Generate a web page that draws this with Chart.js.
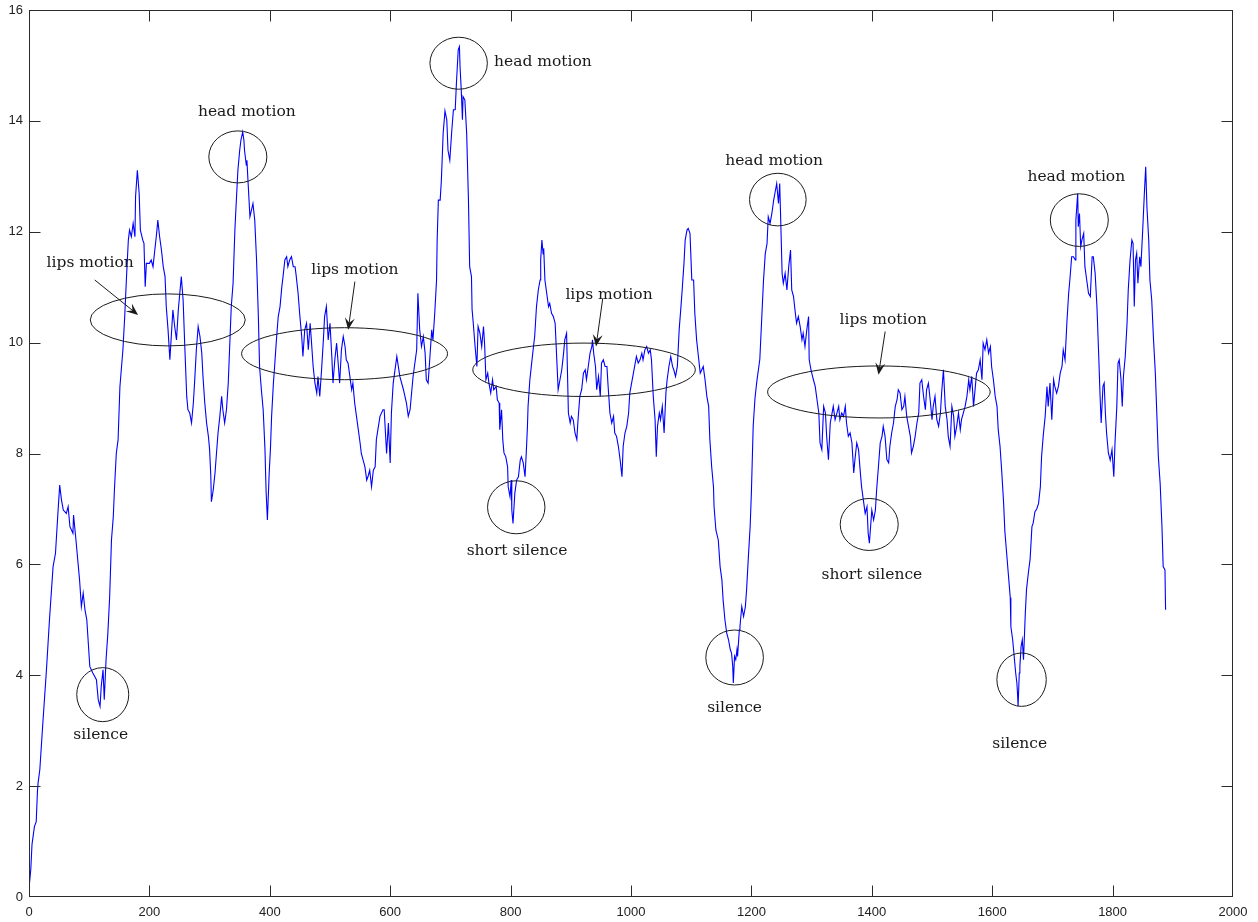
<!DOCTYPE html>
<html><head><meta charset="utf-8">
<script src="https://cdn.jsdelivr.net/npm/chart.js@4.4.1/dist/chart.umd.min.js"></script>
<style>html,body{margin:0;padding:0;background:#fff;}canvas{display:block;}</style>
</head><body>
<canvas id="c" width="1258" height="922"></canvas>
<script>
// ---- data ----
const sampleX = [
0,3,5,9,12,14,15,18,23,29,
34,40,44,48,51,54,57,62,65,68,
73,74,78,81,84,87,90,93,96,101,
106,112,115,118,120,123,125,128,131,134,
137,140,142,145,148,151,156,159,162,165,
167,170,173,176,177,180,183,185,189,191,
193,195,200,203,206,209,212,214,217,220,
223,226,228,231,234,237,239,242,245,248,
251,253,256,259,262,264,267,270,273,275,
278,281,284,287,289,292,295,298,300,302,
303,306,309,311,314,317,320,322,325,328,
331,334,336,339,342,345,347,350,352,355,
357,358,361,362,364,367,372,375,378,381,
383,386,389,392,393,394,396,399,401,403,
406,408,411,414,417,420,422,425,428,430,
433,436,439,442,444,447,450,453,455,458,
461,464,467,469,472,475,478,480,483,486,
489,491,494,497,500,503,505,508,511,514,
516,519,522,525,527,530,533,536,538,541,
544,547,550,552,555,558,561,563,566,569,
572,575,577,583,588,590,594,597,600,602,
605,611,616,622,627,630,633,638,644,646,
649,652,655,658,660,663,666,669,671,674,
677,678,680,683,685,688,691,694,696,699,
702,705,708,710,713,715,716,718,720,721,
724,727,730,732,735,736,738,741,744,746,
749,752,755,757,759,762,764,767,770,772,
776,778,781,782,785,787,789,792,795,796,
799,801,802,804,807,810,813,816,818,821,
824,826,828,829,832,835,838,840,843,846,
849,850,852,854,855,857,860,863,865,868,
871,874,877,879,882,885,888,890,893,896,
899,901,904,907,910,912,915,918,921,924,
926,929,932,935,936,938,941,943,946,949,
951,954,957,960,962,965,968,971,973,976,
979,982,985,987,990,993,996,998,1001,1004,
1007,1009,1012,1015,1018,1020,1023,1026,1029,1032,
1034,1037,1040,1042,1044,1047,1049,1052,1055,1058,
1060,1063,1066,1069,1071,1074,1077,1080,1083,1085,
1088,1090,1093,1095,1098,1101,1104,1106,1109,1112,
1115,1120,1123,1126,1129,1131,1134,1137,1138,1141,
1145,1148,1151,1153,1156,1159,1162,1165,1167,1169,
1170,1172,1174,1176,1177,1180,1181,1184,1187,1190,
1192,1195,1198,1200,1203,1206,1209,1214,1217,1220,
1223,1226,1228,1231,1234,1237,1239,1242,1245,1247,
1249,1251,1253,1256,1259,1262,1265,1267,1270,1273,
1275,1278,1281,1284,1286,1289,1292,1295,1296,1299,
1303,1306,1309,1312,1314,1317,1320,1323,1325,1328,
1331,1334,1336,1339,1342,1345,1347,1350,1353,1356,
1358,1361,1364,1367,1370,1372,1375,1378,1381,1383,
1386,1389,1392,1394,1396,1398,1400,1403,1406,1408,
1411,1414,1417,1419,1422,1425,1428,1430,1433,1436,
1439,1442,1444,1447,1450,1453,1455,1458,1461,1464,
1466,1469,1472,1475,1478,1480,1483,1486,1489,1491,
1494,1497,1500,1502,1505,1508,1511,1514,1516,1519,
1522,1525,1527,1530,1533,1536,1538,1541,1544,1547,
1549,1552,1555,1558,1561,1563,1566,1569,1572,1574,
1577,1580,1583,1585,1588,1591,1594,1597,1599,1602,
1605,1608,1610,1613,1616,1619,1621,1624,1627,1630,
1631,1634,1636,1639,1641,1642,1643,1645,1646,1648,
1650,1652,1655,1657,1660,1663,1666,1668,1671,1674,
1677,1680,1682,1685,1688,1691,1693,1696,1699,1702,
1704,1707,1710,1713,1716,1718,1721,1724,1727,1729,
1732,1735,1738,1739,1742,1743,1745,1747,1749,1752,
1754,1757,1760,1763,1766,1768,1771,1774,1777,1779,
1781,1784,1786,1788,1790,1793,1796,1799,1802,1804,
1807,1809,1811,1814,1816,1818,1821,1824,1826,1829,
1832,1834,1836,1838,1840,1842,1845,1847,1850,1851,
1853,1855,1857,1860,1862,1865,1868,1871,1873,1876,
1879,1882,1884,1887,1888
];
const sampleY = [
0.15,0.5,0.95,1.27,1.36,1.9,2.05,2.3,3.14,4.1,
5.0,5.96,6.2,6.92,7.43,7.16,6.98,6.92,7.04,6.68,
6.56,6.89,6.44,6.08,5.72,5.24,5.48,5.18,5.0,4.16,
4.04,3.92,3.56,3.44,3.8,4.1,3.56,4.28,4.76,5.42,
6.44,6.86,7.37,8.0,8.25,9.2,9.87,10.47,11.19,11.85,
12.03,11.91,12.15,11.91,12.63,13.11,12.69,12.03,11.85,11.79,
11.01,11.43,11.43,11.49,11.37,11.67,11.97,12.21,11.91,11.67,
11.37,11.19,10.65,10.23,9.69,10.23,10.59,10.29,10.05,10.59,
10.95,11.19,10.77,9.87,9.03,8.79,8.73,8.55,8.91,9.27,
9.87,10.29,10.11,9.81,9.39,8.91,8.55,8.31,8.07,7.6,
7.13,7.34,7.65,7.94,8.37,8.67,9.03,8.79,8.55,8.79,
9.27,10.11,10.65,11.07,12.03,12.69,13.11,13.47,13.65,13.8,
13.65,13.47,13.2,13.29,12.87,12.27,12.51,12.21,11.49,10.47,
9.57,9.15,8.79,8.07,7.65,7.28,6.8,7.65,8.07,8.67,
9.27,9.57,10.05,10.47,10.65,11.01,11.19,11.49,11.55,11.37,
11.49,11.55,11.37,11.37,11.19,10.89,10.47,10.11,9.75,10.23,
10.35,9.87,10.35,10.05,9.57,9.27,9.09,9.39,9.03,9.51,
10.05,10.47,10.65,10.05,10.35,9.75,9.27,9.69,9.99,9.57,
9.27,9.87,10.11,9.93,9.69,9.63,9.39,9.15,9.27,8.91,
8.67,8.43,8.19,8.0,7.88,7.76,7.52,7.58,7.7,7.4,
7.7,7.76,8.25,8.67,8.79,8.79,8.0,8.55,7.83,8.73,
9.27,9.75,9.39,9.15,8.91,8.67,8.79,9.39,9.87,10.89,
10.23,9.93,10.11,9.81,9.33,9.27,9.75,10.23,10.05,10.53,
11.13,11.85,12.57,12.57,12.93,13.78,14.18,14.02,13.47,13.29,
13.78,14.2,14.2,14.68,15.28,15.34,14.98,14.56,14.02,14.44,
14.38,13.78,12.57,11.37,11.19,10.6,10.35,9.93,9.57,10.29,
10.17,9.93,10.29,9.93,9.33,9.45,9.27,9.09,9.33,9.15,
9.21,8.97,8.91,8.43,8.79,8.25,8.01,7.94,7.76,7.4,
7.22,7.52,6.98,6.74,7.28,7.52,7.58,7.88,7.94,7.83,
7.58,8.01,8.49,8.85,9.33,9.63,9.93,10.11,10.65,10.95,
11.13,11.5,11.85,11.6,11.7,11.13,10.89,10.65,10.71,10.53,
10.47,10.35,9.63,9.15,9.33,9.51,9.81,10.05,10.17,8.73,
8.55,8.67,8.61,8.37,8.25,8.61,9.03,9.15,9.45,9.51,
9.33,9.57,9.81,9.93,10.05,9.81,9.57,9.15,9.39,9.03,
9.63,9.69,9.57,9.57,9.21,8.73,8.55,8.67,8.37,8.31,
8.13,7.88,7.58,8.13,8.37,8.49,8.73,9.09,9.27,9.45,
9.63,9.75,9.63,9.69,9.81,9.69,9.87,9.93,9.81,9.87,
9.69,9.03,8.61,7.94,8.49,8.73,8.61,8.85,8.37,9.09,
9.33,9.57,9.75,9.57,9.51,9.39,9.57,10.23,10.65,10.95,
11.43,11.85,12.03,12.06,11.97,11.13,11.13,10.53,10.05,9.75,
9.45,9.57,9.33,9.03,8.85,8.25,7.76,7.4,7.04,6.62,
6.44,5.96,5.72,5.36,5.0,4.76,4.64,4.46,4.4,4.16,
3.86,4.34,4.28,4.46,4.34,4.82,4.88,5.24,5.06,5.24,
5.54,6.14,6.7,7.3,8.5,9.0,9.3,9.7,10.4,11.1,
11.6,11.79,12.27,12.15,12.33,12.57,12.69,12.87,12.51,12.87,
12.09,11.25,11.07,11.25,10.95,11.37,11.67,10.95,10.83,10.53,
10.35,10.47,10.29,10.05,10.17,9.93,10.23,10.47,9.69,9.51,
9.33,9.21,8.97,8.73,8.19,8.07,8.85,8.73,8.31,7.89,
8.55,8.73,8.85,8.61,8.73,8.85,8.61,8.73,8.67,8.85,
8.55,8.31,8.37,8.19,7.65,7.89,8.19,8.07,7.65,7.4,
7.16,6.92,7.04,6.56,6.38,6.68,6.98,6.8,6.98,7.34,
7.76,8.19,8.31,8.49,8.31,7.89,7.83,8.13,8.37,8.55,
8.85,8.97,9.15,9.09,8.79,8.85,9.03,8.67,8.49,8.31,
8.01,8.13,8.31,8.55,8.73,9.27,9.33,9.03,8.79,9.15,
9.27,8.97,8.61,8.85,9.03,8.61,8.49,8.73,9.09,9.51,
8.85,8.61,8.31,8.13,8.85,8.67,8.31,8.49,8.73,8.43,
8.61,8.73,8.85,9.03,9.33,9.15,9.39,8.85,9.21,9.45,
9.51,9.69,9.33,9.99,9.87,10.05,9.81,9.93,9.57,9.33,
9.03,8.85,8.43,8.13,7.65,7.1,6.6,6.2,5.8,5.4,
4.88,4.64,4.4,4.04,3.86,3.68,3.44,4.04,4.16,4.52,
4.64,4.28,5.12,5.55,5.84,6.1,6.68,6.74,6.95,7.0,
7.1,7.4,7.94,8.35,8.67,9.21,8.85,9.27,8.61,9.33,
9.21,9.09,9.21,9.45,9.57,9.87,9.69,10.35,10.89,11.13,
11.55,11.55,11.49,12.21,12.69,12.09,12.33,11.73,11.85,11.97,
11.37,11.13,10.89,10.83,11.55,11.55,11.25,10.65,9.75,9.09,
8.55,9.21,9.27,8.73,8.37,8.01,7.88,8.07,7.58,8.19,
8.85,9.63,9.69,9.33,8.85,9.39,9.75,10.35,10.95,11.49,
11.85,11.79,10.65,11.49,11.61,11.07,11.55,11.37,12.03,12.27,
12.75,13.17,12.45,11.85,11.13,10.77,10.05,9.45,8.85,7.94,
7.46,6.68,5.96,5.9,5.18
];
const xTicks = [0,200,400,600,800,1000,1200,1400,1600,1800,2000];
const yTicks = [0,2,4,6,8,10,12,14,16];

// ---- annotations (centres in data units, radii in pixels) ----
const ellipses = [
  {x:122.5, y:3.65, rx:26, ry:27},
  {x:346.9, y:13.35, rx:29, ry:26},
  {x:230.5, y:10.41, rx:77.5, ry:26},
  {x:524.2, y:9.80, rx:103, ry:26},
  {x:713.7, y:15.04, rx:28.7, ry:26},
  {x:922.0, y:9.51, rx:111.3, ry:26.7},
  {x:809.4, y:7.03, rx:28.7, ry:26.5},
  {x:1243.9, y:12.58, rx:28.3, ry:26.3},
  {x:1172.1, y:4.32, rx:28.8, ry:27.5},
  {x:1411.8, y:9.11, rx:111.3, ry:26},
  {x:1395.7, y:6.72, rx:29, ry:26},
  {x:1648.8, y:3.92, rx:24.7, ry:26.7},
  {x:1744.7, y:12.21, rx:29, ry:26.3}
];
const notes = [
  {text:'silence', x:119.2, y:2.93, align:'center'},
  {text:'head motion', x:361.8, y:14.16, align:'center'},
  {text:'lips motion', x:101.7, y:11.44, align:'center'},
  {text:'lips motion', x:541.3, y:11.31, align:'center'},
  {text:'head motion', x:772.4, y:15.06, align:'left'},
  {text:'lips motion', x:963.5, y:10.86, align:'center'},
  {text:'short silence', x:810.6, y:6.25, align:'center'},
  {text:'head motion', x:1237.7, y:13.28, align:'center'},
  {text:'silence', x:1172.1, y:3.41, align:'center'},
  {text:'lips motion', x:1419.0, y:10.41, align:'center'},
  {text:'short silence', x:1400.2, y:5.81, align:'center'},
  {text:'silence', x:1645.8, y:2.76, align:'center'},
  {text:'head motion', x:1739.7, y:12.99, align:'center'}
];
const arrows = [
  {x1:109.2, y1:11.13, x2:181.2, y2:10.50},
  {x1:541.3, y1:11.10, x2:530.2, y2:10.23},
  {x1:953.1, y1:10.80, x2:941.9, y2:9.93},
  {x1:1422.2, y1:10.20, x2:1411.1, y2:9.42}
];

const frame = {
  id:'frame',
  afterDatasetsDraw(chart){
    const {ctx, chartArea:a, scales:{x, y}} = chart;
    ctx.save();
    ctx.strokeStyle = '#2b2b2b';
    ctx.lineWidth = 1;
    const L = Math.round(a.left) + 0.5, R = Math.round(a.right) - 0.5;
    const T = Math.round(a.top) + 0.5, B = Math.round(a.bottom) - 0.5;
    ctx.strokeRect(L, T, R - L, B - T);
    ctx.beginPath();
    xTicks.forEach(v => {
      const px = Math.min(R, Math.max(L, Math.round(x.getPixelForValue(v)) + 0.5));
      ctx.moveTo(px, B); ctx.lineTo(px, B - 11);
      ctx.moveTo(px, T); ctx.lineTo(px, T + 11);
    });
    yTicks.forEach(v => {
      const py = Math.min(B, Math.max(T, Math.round(y.getPixelForValue(v)) + 0.5));
      ctx.moveTo(L, py); ctx.lineTo(L + 11, py);
      ctx.moveTo(R, py); ctx.lineTo(R - 11, py);
    });
    ctx.stroke();
    ctx.restore();
  }
};

const annot = {
  id:'annot',
  afterDatasetsDraw(chart){
    const {ctx, scales:{x, y}} = chart;
    ctx.save();
    ctx.strokeStyle = '#1a1a1a';
    ctx.fillStyle = '#1a1a1a';
    ctx.lineWidth = 1;
    ellipses.forEach(e => {
      ctx.beginPath();
      ctx.ellipse(x.getPixelForValue(e.x), y.getPixelForValue(e.y), e.rx, e.ry, 0, 0, Math.PI * 2);
      ctx.stroke();
    });
    arrows.forEach(r => {
      const x1 = x.getPixelForValue(r.x1), y1 = y.getPixelForValue(r.y1);
      const x2 = x.getPixelForValue(r.x2), y2 = y.getPixelForValue(r.y2);
      const ang = Math.atan2(y2 - y1, x2 - x1);
      const c = Math.cos(ang), s = Math.sin(ang);
      const L = 12, W = 5;
      ctx.beginPath(); ctx.moveTo(x1, y1); ctx.lineTo(x2 - c * 6, y2 - s * 6); ctx.stroke();
      ctx.beginPath();
      ctx.moveTo(x2, y2);
      ctx.lineTo(x2 - c * L - s * W, y2 - s * L + c * W);
      ctx.lineTo(x2 - c * L * 0.6, y2 - s * L * 0.6);
      ctx.lineTo(x2 - c * L + s * W, y2 - s * L - c * W);
      ctx.closePath();
      ctx.fill();
    });
    ctx.font = '15.5px "DejaVu Serif"';
    ctx.textBaseline = 'middle';
    notes.forEach(n => {
      ctx.textAlign = n.align;
      ctx.fillText(n.text, x.getPixelForValue(n.x), y.getPixelForValue(n.y));
    });
    ctx.restore();
  }
};

const points = sampleX.slice(0, Math.min(sampleX.length, sampleY.length)).map((v, i) => ({x: v, y: sampleY[i]}));
const tickFont = {family: '"Liberation Sans", Arial, sans-serif', size: 13};

new Chart(document.getElementById('c'), {
  type: 'line',
  data: {datasets: [{data: points, borderColor: '#0000ff', borderWidth: 1.1, pointRadius: 0, tension: 0, fill: false}]},
  options: {
    responsive: false, animation: false, devicePixelRatio: 1,
    layout: {padding: {left: 0, top: 10, right: 25, bottom: 0}},
    plugins: {legend: {display: false}, tooltip: {enabled: false}},
    scales: {
      x: {
        type: 'linear', min: 0, max: 2000,
        afterBuildTicks: s => { s.ticks = xTicks.map(v => ({value: v})); },
        grid: {display: false, drawTicks: false}, border: {display: false},
        ticks: {font: tickFont, color: '#222', padding: 8, maxRotation: 0, autoSkip: false, callback: v => String(v)},
        afterFit: s => { s.height = 25; s.paddingLeft = 0; s.paddingRight = 0; }
      },
      y: {
        type: 'linear', min: 0, max: 16,
        afterBuildTicks: s => { s.ticks = yTicks.map(v => ({value: v})); },
        grid: {display: false, drawTicks: false}, border: {display: false},
        ticks: {font: tickFont, color: '#222', padding: 6, autoSkip: false, callback: v => String(v)},
        afterFit: s => { s.width = 29; s.paddingTop = 0; s.paddingBottom = 0; }
      }
    }
  },
  plugins: [frame, annot]
});
</script>
</body></html>
